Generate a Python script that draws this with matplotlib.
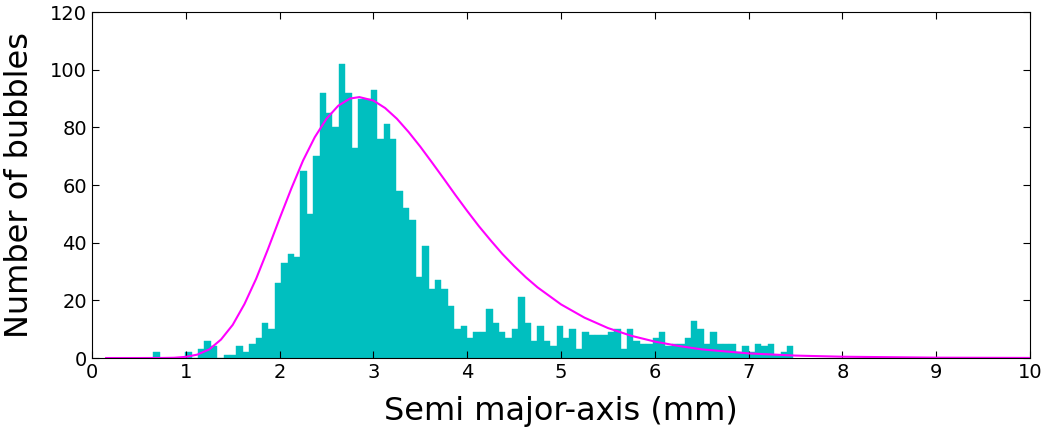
import numpy as np
import matplotlib.pyplot as plt

# histogram of semi major-axis, 100 bins between 0.65 and 7.48 mm
bin_start = 0.653
bin_stop = 7.477
counts = [2, 0, 0, 0, 0, 2, 0, 3, 6, 4,
          0, 1, 1, 4, 2, 5, 7, 12, 10, 26,
          33, 36, 35, 65, 50, 70, 92, 85, 80, 102,
          92, 73, 90, 90, 93, 76, 81, 76, 58, 52,
          48, 28, 39, 24, 27, 24, 18, 10, 11, 7,
          9, 9, 17, 12, 9, 7, 10, 21, 12, 6,
          11, 6, 4, 11, 7, 10, 3, 9, 8, 8,
          8, 9, 10, 3, 10, 6, 5, 5, 7, 9,
          4, 5, 5, 7, 13, 10, 5, 9, 5, 5,
          5, 2, 4, 2, 5, 4, 5, 1, 2, 4]

# fitted distribution curve
fit_x = [0.15, 0.5, 0.75, 0.875, 1.0, 1.125, 1.25, 1.375, 1.5, 1.625,
         1.75, 1.875, 2.0, 2.125, 2.25, 2.375, 2.5, 2.625, 2.75, 2.85,
         3.0, 3.125, 3.25, 3.375, 3.5, 3.625, 3.75, 3.875, 4.0, 4.125,
         4.25, 4.375, 4.5, 4.625, 4.75, 5.0, 5.25, 5.5, 5.75, 6.0,
         6.25, 6.5, 7.0, 7.5, 8.0, 9.0, 10.0]
fit_y = [0.0, 0.0, 0.02, 0.09, 0.4, 1.2, 3.0, 6.4, 11.5, 18.7,
         27.5, 37.7, 48.4, 58.8, 68.5, 76.6, 83.0, 87.5, 90.0, 90.5,
         89.3, 86.7, 83.0, 78.4, 73.3, 67.8, 62.2, 56.5, 51.0, 45.7,
         40.8, 36.1, 31.9, 28.0, 24.5, 18.6, 14.0, 10.4, 7.7, 5.7,
         4.2, 3.0, 1.6, 0.84, 0.45, 0.12, 0.03]

width = (bin_stop - bin_start) / len(counts)
lefts = bin_start + width * np.arange(len(counts))

fig = plt.figure(figsize=(10.42, 4.3), dpi=100, facecolor='w')
ax = fig.add_axes([0.0883, 0.1674, 0.9002, 0.8046])

ax.bar(lefts, counts, width=width, align='edge', color='#00bfbf',
       edgecolor='#00bfbf', linewidth=0.3)
ax.plot(fit_x, fit_y, color='#ff00ff', lw=1.5)

ax.set_xlim(0, 10)
ax.set_ylim(0, 120)
ax.set_xticks(range(0, 11))
ax.set_yticks(range(0, 121, 20))
ax.tick_params(direction='in', top=True, right=True, length=5,
               labelsize=14, width=0.8)
for spine in ax.spines.values():
    spine.set_linewidth(0.8)

ax.set_xlabel('Semi major-axis (mm)', fontsize=23, labelpad=10)
ax.set_ylabel('Number of bubbles', fontsize=23, labelpad=11)

fig.savefig('out.png', dpi=100)
